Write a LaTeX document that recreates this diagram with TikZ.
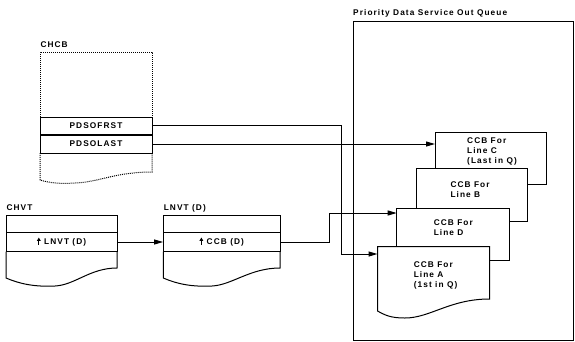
\documentclass[tikz,border=0pt]{standalone}
\usepackage{fontspec}
\setmainfont{Liberation Sans}[LetterSpace=13]
\usetikzlibrary{arrows.meta}
\newcommand\uparr{\tikz[baseline=0pt]{\fill (-0.55pt,0pt) rectangle (0.55pt,4.5pt);
  \fill (-2pt,3.8pt) -- (0pt,7.2pt) -- (2pt,3.8pt) -- cycle;}}
\begin{document}
\begin{tikzpicture}[x=1pt,y=-1pt,line width=1pt,
  txt/.style={font=\bfseries\fontsize{8.3}{10}\selectfont, inner sep=0pt},
  rowbox/.style={draw, txt, minimum height=18pt},
  multi/.style={txt, align=left, anchor=north west},
  arr/.style={-{Triangle[length=9pt,width=5pt]}}]
\useasboundingbox (0,0) rectangle (575,341);
% CHCB
\node[txt, anchor=base west] (chcb) at (40,47.3) {CHCB};
\node[rowbox, minimum width=112pt, minimum height=17pt] (pdsofrst) at (96,125.5) {PDSOFRST};
\node[rowbox, minimum width=112pt, minimum height=18pt] (pdsolast) at (96,144) {PDSOLAST};
\draw[densely dotted] (40,117) -- (40,52) -- (152,52) -- (152,117);
\draw[densely dotted] (40,153) -- (40,180) .. controls (50,183) and (60,184) .. (75,183)
   .. controls (100,182) and (115,172) .. (152,172) -- (152,153);
% CHVT
\node[txt, anchor=base west] (chvt) at (6,210) {CHVT};
\node[rowbox, minimum width=111pt, minimum height=19pt] (chvtrow) at (61.5,242) {\uparr\ LNVT (D)};
\draw (6,232.5) -- (6,215.7) -- (117,215.7) -- (117,232.5);
\draw (6,251.5) -- (6,278) .. controls (20,284) and (35,287) .. (55,286)
   .. controls (75,285) and (90,268) .. (117,268) -- (117,251.5);
% LNVT (D)
\node[txt, anchor=base west] (lnvt) at (163.3,210) {LNVT (D)};
\node[rowbox, minimum width=116.7pt, minimum height=19pt] (lnvtrow) at (221.65,242) {\uparr\ CCB (D)};
\draw (163.3,232.5) -- (163.3,215.7) -- (280,215.7) -- (280,232.5);
\draw (163.3,251.5) -- (163.3,278) .. controls (177,284) and (192,287) .. (212,286)
   .. controls (232,285) and (250,268) .. (280,268) -- (280,251.5);
% Queue
\node[txt, anchor=base west] (title) at (352.7,15) {Priority Data Service Out Queue};
\draw (353,21) rectangle (573,340);
% CCB boxes
\draw (435,168) -- (435,132) -- (546.7,132) -- (546.7,184) -- (527.5,184);
\draw (416,208.3) -- (416,168) -- (527.5,168) -- (527.5,221.7) -- (509,221.7);
\draw (396.7,246.7) -- (396.7,208.3) -- (509,208.3) -- (509,260) -- (489.5,260);
\draw (377.5,246.7) -- (489.5,246.7) -- (489.5,299) .. controls (450,299) and (430,318) .. (405,318)
   .. controls (390,318) and (385,315) .. (377.5,311) -- cycle;
\node[multi] (ccbC) at (466.7,136.8) {CCB For\\Line C\\(Last in Q)};
\node[multi] (ccbB) at (450,181.2) {CCB For\\Line B};
\node[multi] (ccbD) at (433.3,218.8) {CCB For\\Line D};
\node[multi] (ccbA) at (413.3,261.5) {CCB For\\Line A\\(1st in Q)};
\coordinate (Cin) at (435,144);
\coordinate (Din) at (396.7,213);
\coordinate (Ain) at (377.5,254);
% connectors
\draw[arr] (pdsolast.east) -- (Cin);
\draw[arr] (pdsofrst.east) -- ++(189,0) |- (Ain);
\draw[arr] (chvtrow.east) -- (lnvtrow.west);
\draw[arr] (lnvtrow.east) -- ++(49,0) |- (Din);
\end{tikzpicture}
\end{document}
